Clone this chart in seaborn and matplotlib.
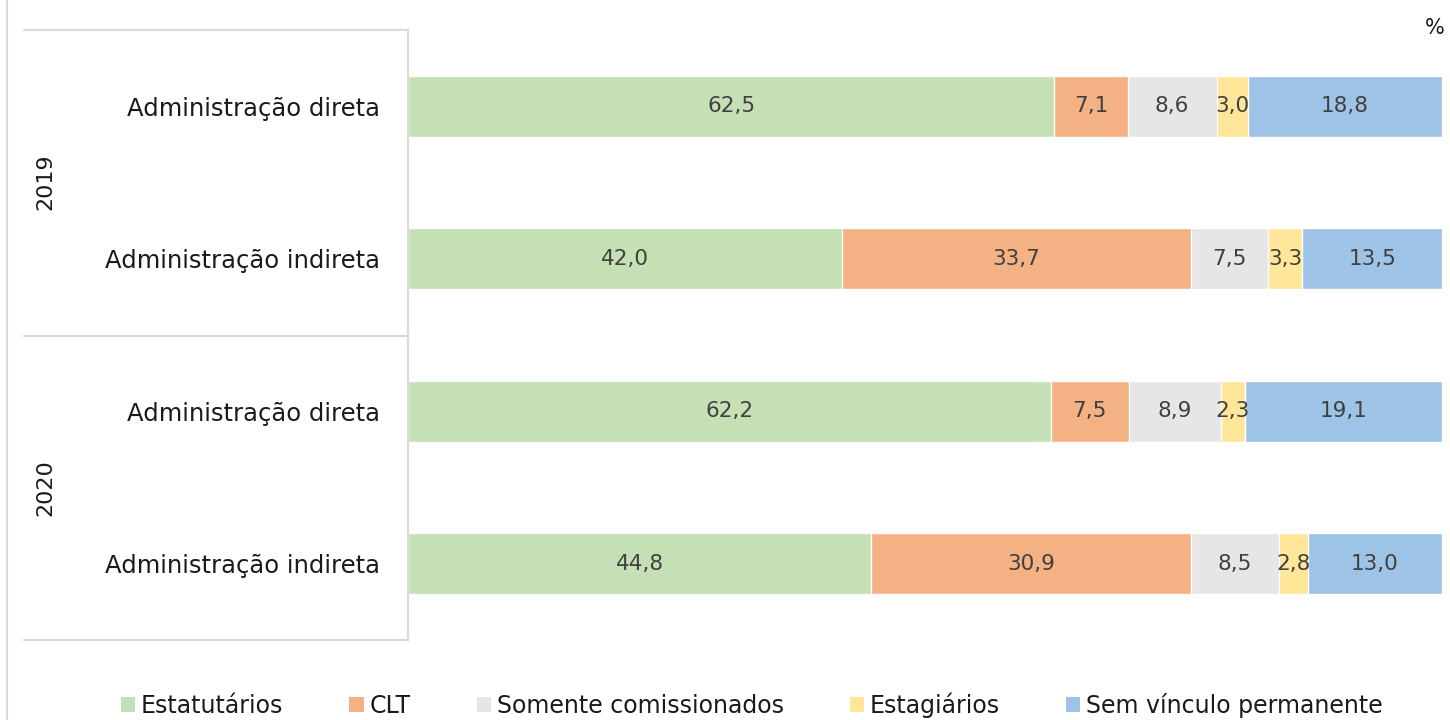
import matplotlib
matplotlib.use('Agg')
import matplotlib.pyplot as plt
import seaborn as sns
import pandas as pd
import numpy as np
from matplotlib.lines import Line2D
from matplotlib.patches import Patch

years = ['2019', '2020']
rows = ['Administração direta', 'Administração indireta',
        'Administração direta', 'Administração indireta']
row_keys = ['2019 direta', '2019 indireta', '2020 direta', '2020 indireta']
series = ['Estatutários', 'CLT', 'Somente comissionados', 'Estagiários', 'Sem vínculo permanente']
estatutarios = [62.5, 42.0, 62.2, 44.8]
clt = [7.1, 33.7, 7.5, 30.9]
comissionados = [8.6, 7.5, 8.9, 8.5]
estagiarios = [3.0, 3.3, 2.3, 2.8]
sem_vinculo = [18.8, 13.5, 19.1, 13.0]
colors = ['#C5E0B4', '#F4B183', '#E7E6E6', '#FFE699', '#9DC3E6']

sns.set_theme(style='white')
plt.rcParams['font.family'] = ['DejaVu Sans']

values = np.array([estatutarios, clt, comissionados, estagiarios, sem_vinculo])
cum = values.cumsum(axis=0)

fig = plt.figure(figsize=(14.5, 7.2), dpi=100)
ax = fig.add_axes([408 / 1450, 1 - 640 / 720, (1442 - 408) / 1450, 610 / 720])

# stacked bars: draw the cumulative totals from the right-most series backwards
for i in range(len(series) - 1, -1, -1):
    df = pd.DataFrame({'key': row_keys, 'val': cum[i]})
    sns.barplot(data=df, x='val', y='key', orient='h', color=colors[i],
                width=0.4, saturation=1, ax=ax, zorder=2)

for i in range(len(series)):
    for j in range(len(row_keys)):
        v = values[i][j]
        ax.text(cum[i][j] - v / 2, j, f'{v:.1f}'.replace('.', ','),
                ha='center', va='center', fontsize=15.5, color='#404040', zorder=3)

ax.set_xlim(0, 100)
ax.set_ylim(3.5, -0.5)
ax.set_xlabel('')
ax.set_ylabel('')
ax.set_xticks([])
ax.set_yticks(range(len(rows)))
ax.set_yticklabels(rows, fontsize=17.5, color='#1a1a1a')
ax.tick_params(axis='y', length=0, pad=20)
for s in ['top', 'right', 'bottom']:
    ax.spines[s].set_visible(False)
ax.spines['left'].set_color('#D9D9D9')
ax.spines['left'].set_linewidth(1.5)

# group separators and year labels
line_kw = dict(color='#D9D9D9', linewidth=1.5, transform=fig.transFigure)
for yp in [30, 336, 640]:
    fig.add_artist(Line2D([24 / 1450, 408 / 1450], [1 - yp / 720] * 2, **line_kw))
fig.add_artist(Line2D([7 / 1450, 7 / 1450], [0, 1], **line_kw))
for k, yp in enumerate([182, 488]):
    fig.text(45 / 1450, 1 - yp / 720, years[k], rotation=90, ha='center', va='center',
             fontsize=16, color='#1a1a1a')

fig.text(1435 / 1450, 1 - 28 / 720, '%', ha='center', va='center', fontsize=15, color='#1a1a1a')

handles = [Patch(facecolor=c, edgecolor='none') for c in colors]
fig.legend(handles, series, loc='center', bbox_to_anchor=(752 / 1450, 1 - 705 / 720),
           ncol=5, frameon=False, fontsize=17, handlelength=0.6, handleheight=0.6,
           handletextpad=0.25, columnspacing=2.8, labelcolor='#1a1a1a')

fig.savefig('out.png', dpi=100)
